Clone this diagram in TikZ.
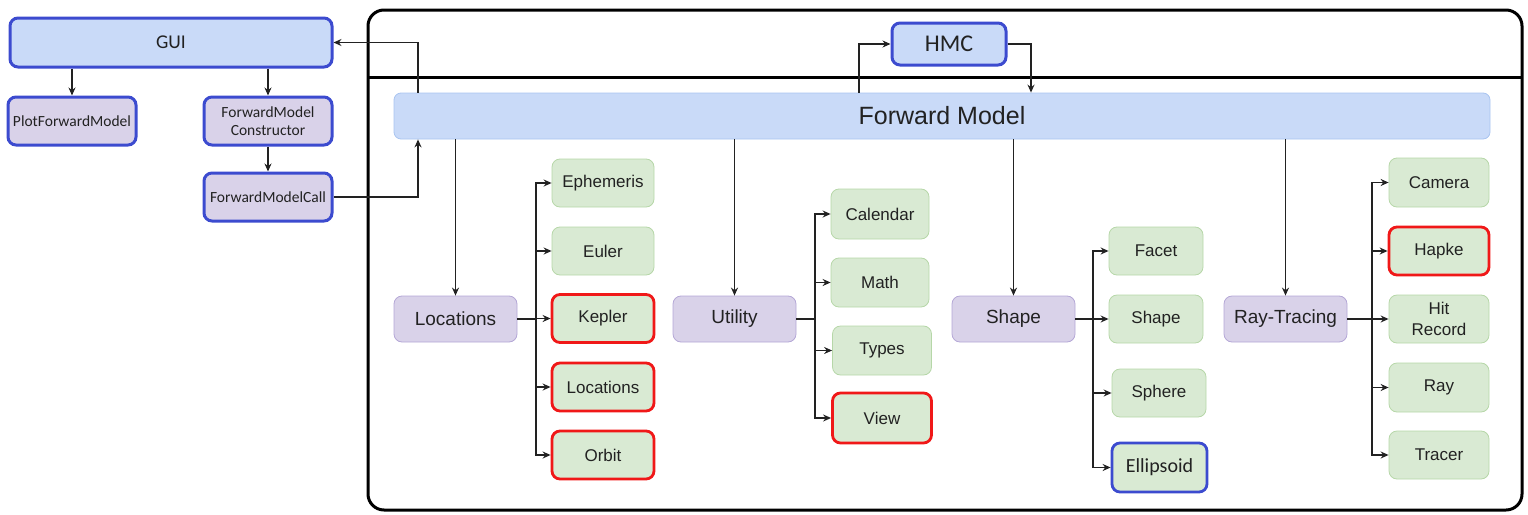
\documentclass[tikz,border=0pt]{standalone}
\usepackage{fontspec}
\setmainfont{Liberation Sans}
\newfontfamily\calfont{Carlito}
\usetikzlibrary{arrows.meta}

\definecolor{bluefill}{HTML}{C9DAF8}
\definecolor{blueedge}{HTML}{3C4BCF}
\definecolor{fmedge}{HTML}{A9C4F0}
\definecolor{lavfill}{HTML}{D9D2E9}
\definecolor{lavedge}{HTML}{B4A7D6}
\definecolor{grnfill}{HTML}{D9EAD3}
\definecolor{grnedge}{HTML}{B6D7A8}
\definecolor{rededge}{HTML}{F01818}
\definecolor{ink}{HTML}{222222}

\tikzset{
  box/.style={rectangle, rounded corners=8pt, inner sep=0pt, align=center, text=ink},
  guibox/.style={box, fill=bluefill, draw=blueedge, line width=3pt, font=\calfont\fontsize{19.5}{22}\selectfont},
  appbox/.style={box, fill=lavfill, draw=blueedge, line width=3pt, minimum width=128pt, minimum height=48pt, font=\calfont\fontsize{15.5}{18}\selectfont},
  hmcbox/.style={box, fill=bluefill, draw=blueedge, line width=3pt, minimum width=114pt, minimum height=42pt, font=\calfont\fontsize{24}{28}\selectfont},
  fmbox/.style={box, rounded corners=7pt, fill=bluefill, draw=fmedge, line width=0.8pt, font=\fontsize{25}{28}\selectfont},
  modbox/.style={box, fill=lavfill, draw=lavedge, line width=0.8pt, minimum width=123pt, minimum height=46pt, font=\fontsize{19}{22}\selectfont},
  leaf/.style={box, fill=grnfill, draw=grnedge, line width=0.8pt, minimum height=48pt, font=\fontsize{17}{21}\selectfont},
  redleaf/.style={leaf, draw=rededge, line width=2.8pt},
  blueleaf/.style={leaf, draw=blueedge, line width=2.8pt, font=\calfont\fontsize{20}{24}\selectfont},
  arr/.style={draw=ink, line width=1.3pt, -{Stealth[length=8pt,width=7pt]}},
  link/.style={draw=ink, line width=1.3pt},
  frame/.style={draw=black, line width=3pt}
}

\begin{document}
\begin{tikzpicture}[x=1pt, y=-1pt]
\useasboundingbox (0,0) rectangle (1528,514);

% enclosing frame of the forward-model package
\draw[frame, rounded corners=16pt] (368,10) rectangle (1522,510);
\draw[frame] (368,77) -- (1522,77);

% GUI side
\node[guibox, minimum width=322pt, minimum height=49pt] (gui) at (171,42.5) {GUI};
\node[appbox] (pfm)  at (72,121)  {PlotForwardModel};
\node[appbox] (ctor) at (268,121) {ForwardModel\\Constructor};
\node[appbox] (call) at (268,197) {ForwardModelCall};

% sampler and forward model
\node[hmcbox] (hmc) at (949,44) {HMC};
\node[fmbox, minimum width=1096pt, minimum height=46pt] (fm) at (942,116) {Forward Model};

% modules
\node[modbox] (loc) at (455.5,319)  {Locations};
\node[modbox] (utl) at (734.5,319)  {Utility};
\node[modbox] (shp) at (1013.5,319) {Shape};
\node[modbox] (rtr) at (1285.5,319) {Ray-Tracing};

% Locations members
\node[leaf,    minimum width=102pt] (eph)  at (603,183)   {Ephemeris};
\node[leaf,    minimum width=102pt] (eul)  at (603,251)   {Euler};
\node[redleaf, minimum width=102pt] (kep)  at (603,318.5) {Kepler};
\node[redleaf, minimum width=102pt] (locc) at (603,387)   {Locations};
\node[redleaf, minimum width=102pt] (orb)  at (603,455)   {Orbit};

% Utility members
\node[leaf,    minimum width=98pt, minimum height=50pt] (cal) at (880,214)   {Calendar};
\node[leaf,    minimum width=98pt, minimum height=49pt] (mth) at (880,282.5) {Math};
\node[leaf,    minimum width=99pt, minimum height=49pt] (typ) at (882,350.5) {Types};
\node[redleaf, minimum width=99pt, minimum height=50pt] (vie) at (882,418)   {View};

% Shape members
\node[leaf,      minimum width=94pt] (fac) at (1156,251)   {Facet};
\node[leaf,      minimum width=94pt] (shc) at (1156,319)   {Shape};
\node[leaf,      minimum width=94pt] (sph) at (1159,393)   {Sphere};
\node[blueleaf,  minimum width=95pt, minimum height=49pt] (ell) at (1159.5,467.5) {Ellipsoid};

% Ray-Tracing members
\node[leaf,    minimum width=100pt, minimum height=49pt] (cam) at (1439,182.5) {Camera};
\node[redleaf, minimum width=100pt] (hap) at (1439,251)   {Hapke};
\node[leaf,    minimum width=100pt] (hit) at (1439,319)   {Hit\\Record};
\node[leaf,    minimum width=100pt, minimum height=49pt] (ray) at (1439,387.5) {Ray};
\node[leaf,    minimum width=100pt] (trc) at (1439,455)   {Tracer};

% tap points on the forward model bar
\coordinate (tapA) at (418,0);
\coordinate (tapB) at (859,0);
\coordinate (tapC) at (1031,0);

% GUI connectors
\draw[arr] (pfm.north |- gui.south) -- (pfm.north);
\draw[arr] (ctor.north |- gui.south) -- (ctor.north);
\draw[arr] (ctor.south) -- (call.north);
\draw[arr] (call.east) -| (tapA |- fm.south);
\draw[arr] (tapA |- fm.north) |- (gui.east);

% HMC loop
\draw[arr] (tapB |- fm.north) |- (hmc.west);
\draw[arr] (hmc.east) -| (tapC |- fm.north);

% forward model to modules
\foreach \m in {loc,utl,shp,rtr}
  \draw[arr] (fm.south -| \m.north) -- (\m.north);

% module buses
\coordinate (busL) at (536,319);
\coordinate (busU) at (815,319);
\coordinate (busS) at (1093,319);
\coordinate (busR) at (1372,319);

\draw[link] (loc.east) -- (busL);
\foreach \c in {eph,eul,kep,locc,orb}
  \draw[arr] (busL) |- (\c.west);

\draw[link] (utl.east) -- (busU);
\foreach \c in {cal,mth,typ,vie}
  \draw[arr] (busU) |- (\c.west);

\draw[link] (shp.east) -- (busS);
\foreach \c in {fac,shc,sph,ell}
  \draw[arr] (busS) |- (\c.west);

\draw[link] (rtr.east) -- (busR);
\foreach \c in {cam,hap,hit,ray,trc}
  \draw[arr] (busR) |- (\c.west);
\end{tikzpicture}
\end{document}
